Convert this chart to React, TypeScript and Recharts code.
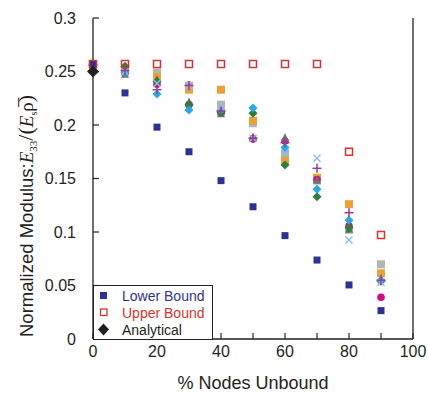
import React from "react";
import { ScatterChart, Scatter, XAxis, YAxis, Legend } from "recharts";

// % nodes unbound
const xs = [0, 10, 20, 30, 40, 50, 60, 70, 80, 90];

const lowerBound = [0.257, 0.23, 0.198, 0.175, 0.148, 0.1236, 0.0966, 0.0738, 0.0505, 0.0265];
const upperBound = [0.257, 0.257, 0.257, 0.257, 0.257, 0.257, 0.257, 0.257, 0.175, 0.0972];
const analyticalX = [0];
const analytical = [0.25];

// simulation runs (not in legend)
const graySquares = [0.256, 0.252, 0.249, 0.237, 0.219, 0.2016, 0.1735, 0.148, 0.102, 0.0698];
const orangeSquares = [0.256, 0.25, 0.245, 0.233, 0.233, 0.204, 0.167, 0.1508, 0.126, 0.0614];
const grayTriangles = [0.257, 0.247, 0.242, 0.221, 0.21, 0.188, 0.1876, 0.148, 0.102, 0.056];
const greenDiamonds = [0.257, 0.255, 0.241, 0.219, 0.212, 0.211, 0.1626, 0.133, 0.104, 0.054];
const magentaCircles = [0.256, 0.249, 0.238, 0.219, 0.211, 0.187, 0.185, 0.149, 0.1056, 0.039];
const blueDiamonds = [0.256, 0.249, 0.229, 0.214, 0.214, 0.216, 0.179, 0.14, 0.111, 0.055];
const lightBlueX = [0.257, 0.25, 0.239, 0.236, 0.217, 0.1876, 0.1735, 0.169, 0.0925, 0.053];
const magentaPlus = [0.256, 0.251, 0.233, 0.237, 0.213, 0.1876, 0.1835, 0.1595, 0.118, 0.055];

const xTicks = [0, 10, 20, 30, 40, 50, 60, 70, 80, 90, 100];
const yTicks = [0, 0.05, 0.1, 0.15, 0.2, 0.25, 0.3];
const legendOrder = ["Lower Bound", "Upper Bound", "Analytical"];

const toPoints = (x: number[], y: number[]) => x.map((v, i) => ({ x: v, y: y[i] }));

const FONT = "'Liberation Sans', Arial, sans-serif";
const SERIF = "'Liberation Serif', serif";
const AXIS = "#231F20";

const square = (fill: string, s = 7) => (p: any) => (
  <rect x={p.cx - s / 2} y={p.cy - s / 2} width={s} height={s} fill={fill} />
);
const openSquare = (stroke: string) => (p: any) => (
  <rect x={p.cx - 3.5} y={p.cy - 3.5} width={7} height={7} fill="none" stroke={stroke} strokeWidth={1.5} />
);
const diamond = (fill: string, r = 4.5) => (p: any) => (
  <polygon
    points={`${p.cx},${p.cy - r} ${p.cx + r},${p.cy} ${p.cx},${p.cy + r} ${p.cx - r},${p.cy}`}
    fill={fill}
  />
);
const triangle = (fill: string) => (p: any) => (
  <polygon points={`${p.cx},${p.cy - 5} ${p.cx + 4},${p.cy + 3} ${p.cx - 4},${p.cy + 3}`} fill={fill} />
);
const circle = (fill: string) => (p: any) => <circle cx={p.cx} cy={p.cy} r={3.8} fill={fill} />;
const plus = (stroke: string) => (p: any) => (
  <g stroke={stroke} strokeWidth={1.5}>
    <line x1={p.cx - 4.5} x2={p.cx + 4.5} y1={p.cy} y2={p.cy} />
    <line x1={p.cx} x2={p.cx} y1={p.cy - 4.5} y2={p.cy + 4.5} />
  </g>
);
const xMark = (stroke: string) => (p: any) => (
  <g stroke={stroke} strokeWidth={1.5}>
    <line x1={p.cx - 3.5} x2={p.cx + 3.5} y1={p.cy - 3.5} y2={p.cy + 3.5} />
    <line x1={p.cx - 3.5} x2={p.cx + 3.5} y1={p.cy + 3.5} y2={p.cy - 3.5} />
  </g>
);

const BottomTick = (props: any) => {
  const { x, y, payload } = props;
  return (
    <g>
      <line x1={x} x2={x} y1={y} y2={y - 6} stroke={AXIS} strokeWidth={1.2} />
      {payload.value % 20 === 0 && (
        <text x={x} y={y + 18} textAnchor="middle" fontSize={16} fontFamily={FONT} fill={AXIS}>
          {payload.value}
        </text>
      )}
    </g>
  );
};

const TopTick = (props: any) => {
  const { x, y } = props;
  return <line x1={x} x2={x} y1={y} y2={y + 6} stroke={AXIS} strokeWidth={1.2} />;
};

const LeftTick = (props: any) => {
  const { x, y, payload } = props;
  return (
    <g>
      <line x1={x} x2={x + 6} y1={y} y2={y} stroke={AXIS} strokeWidth={1.2} />
      <text x={x - 17} y={y} dy={5.5} textAnchor="end" fontSize={16} fontFamily={FONT} fill={AXIS}>
        {String(payload.value)}
      </text>
    </g>
  );
};

const RightTick = (props: any) => {
  const { x, y } = props;
  return <line x1={x} x2={x - 6} y1={y} y2={y} stroke={AXIS} strokeWidth={1.2} />;
};

const YLabel = () => (
  <text transform="translate(33,337) rotate(-90)" textAnchor="start" fontSize={18.5} fontFamily={FONT} fill={AXIS}>
    <tspan>Normalized Modulus:</tspan>
    <tspan fontFamily={SERIF} fontStyle="italic" fontSize={19}>E</tspan>
    <tspan fontFamily={SERIF} fontSize={11} dy={4}>33</tspan>
    <tspan fontSize={22} fontFamily={SERIF} dy={-4}>/(</tspan>
    <tspan fontFamily={SERIF} fontStyle="italic" fontSize={19}>E</tspan>
    <tspan fontFamily={SERIF} fontSize={10} dy={4}>s</tspan>
    <tspan fontFamily={SERIF} fontSize={19} dy={-4}>ρ̅</tspan>
    <tspan fontSize={22} fontFamily={SERIF}>)</tspan>
  </text>
);

const legendMarker = (name: string, color: string) => {
  if (name === "Lower Bound") return <rect x={2} y={3} width={7} height={7} fill={color} />;
  if (name === "Upper Bound")
    return <rect x={2.5} y={3} width={6.5} height={6.5} fill="none" stroke={color} strokeWidth={1.3} />;
  return <polygon points="5.5,0.5 11,6.5 5.5,12.5 0,6.5" fill={color} />;
};

const LegendBox = (props: any) => {
  const items = (props.payload || [])
    .filter((p: any) => legendOrder.includes(p.value))
    .sort((a: any, b: any) => legendOrder.indexOf(a.value) - legendOrder.indexOf(b.value));
  return (
    <div
      style={{
        border: `1px solid ${AXIS}`,
        background: "#fff",
        width: 118,
        height: 52,
        boxSizing: "content-box",
        fontFamily: FONT,
        fontSize: 14,
        paddingTop: 1,
      }}
    >
      {items.map((it: any) => (
        <div key={it.value} style={{ display: "flex", alignItems: "center", height: 17 }}>
          <svg width={13} height={13} style={{ marginLeft: 4, marginRight: 11 }}>
            {legendMarker(it.value, it.color)}
          </svg>
          <span style={{ color: it.value === "Analytical" ? AXIS : it.color }}>{it.value}</span>
        </div>
      ))}
    </div>
  );
};

export default function App() {
  return (
    <div style={{ position: "absolute", left: 0, top: 0, background: "#fff" }}>
      <ScatterChart width={428} height={395} margin={{ top: 18, right: 14, bottom: 0, left: 0 }}>
        <XAxis
          type="number"
          dataKey="x"
          domain={[0, 100]}
          ticks={xTicks}
          interval={0}
          height={56}
          tickSize={0}
          tickMargin={0}
          tickLine={false}
          axisLine={{ stroke: AXIS, strokeWidth: 1.3 }}
          tick={BottomTick}
          label={{
            value: "% Nodes Unbound",
            position: "insideBottom",
            offset: 6,
            fontSize: 18,
            fontFamily: FONT,
            fill: AXIS,
          }}
        />
        <XAxis
          xAxisId="top"
          orientation="top"
          type="number"
          dataKey="x"
          domain={[0, 100]}
          ticks={xTicks}
          interval={0}
          height={0}
          tickSize={0}
          tickMargin={0}
          tickLine={false}
          axisLine={{ stroke: AXIS, strokeWidth: 1.3 }}
          tick={TopTick}
        />
        <YAxis
          type="number"
          dataKey="y"
          domain={[0, 0.3]}
          ticks={yTicks}
          interval={0}
          width={93}
          tickSize={0}
          tickMargin={0}
          tickLine={false}
          axisLine={{ stroke: AXIS, strokeWidth: 1.3 }}
          tick={LeftTick}
          label={{ content: YLabel }}
        />
        <YAxis
          yAxisId="right"
          orientation="right"
          type="number"
          dataKey="y"
          domain={[0, 0.3]}
          ticks={yTicks}
          interval={0}
          width={1}
          tickSize={0}
          tickMargin={0}
          tickLine={false}
          axisLine={{ stroke: AXIS, strokeWidth: 1.3 }}
          tick={RightTick}
        />
        <Legend
          layout="vertical"
          align="center"
          verticalAlign="middle"
          content={LegendBox}
          wrapperStyle={{ left: 93, top: 285, width: 120, height: 54 }}
        />
        <Scatter name="gs" legendType="none" data={toPoints(xs, graySquares)} shape={square("#B5B5B5", 8)} isAnimationActive={false} />
        <Scatter name="os" legendType="none" data={toPoints(xs, orangeSquares)} shape={square("#E9A23B", 8)} isAnimationActive={false} />
        <Scatter name="mc" legendType="none" data={toPoints(xs, magentaCircles)} shape={circle("#CC1082")} isAnimationActive={false} />
        <Scatter name="gt" legendType="none" data={toPoints(xs, grayTriangles)} shape={triangle("#6D6E71")} isAnimationActive={false} />
        <Scatter name="gd" legendType="none" data={toPoints(xs, greenDiamonds)} shape={diamond("#2E7D3A")} isAnimationActive={false} />
        <Scatter name="bd" legendType="none" data={toPoints(xs, blueDiamonds)} shape={diamond("#27A9E1")} isAnimationActive={false} />
        <Scatter name="lx" legendType="none" data={toPoints(xs, lightBlueX)} shape={xMark("#8DBDE6")} isAnimationActive={false} />
        <Scatter name="mp" legendType="none" data={toPoints(xs, magentaPlus)} shape={plus("#9B3A93")} isAnimationActive={false} />
        <Scatter name="Lower Bound" data={toPoints(xs, lowerBound)} fill="#2E3192" shape={square("#2E3192", 7)} isAnimationActive={false} />
        <Scatter name="Upper Bound" data={toPoints(xs, upperBound)} fill="#D2352B" shape={openSquare("#D2352B")} isAnimationActive={false} />
        <Scatter name="Analytical" data={toPoints(analyticalX, analytical)} fill="#231F20" shape={diamond("#231F20", 6)} isAnimationActive={false} />
      </ScatterChart>
    </div>
  );
}
